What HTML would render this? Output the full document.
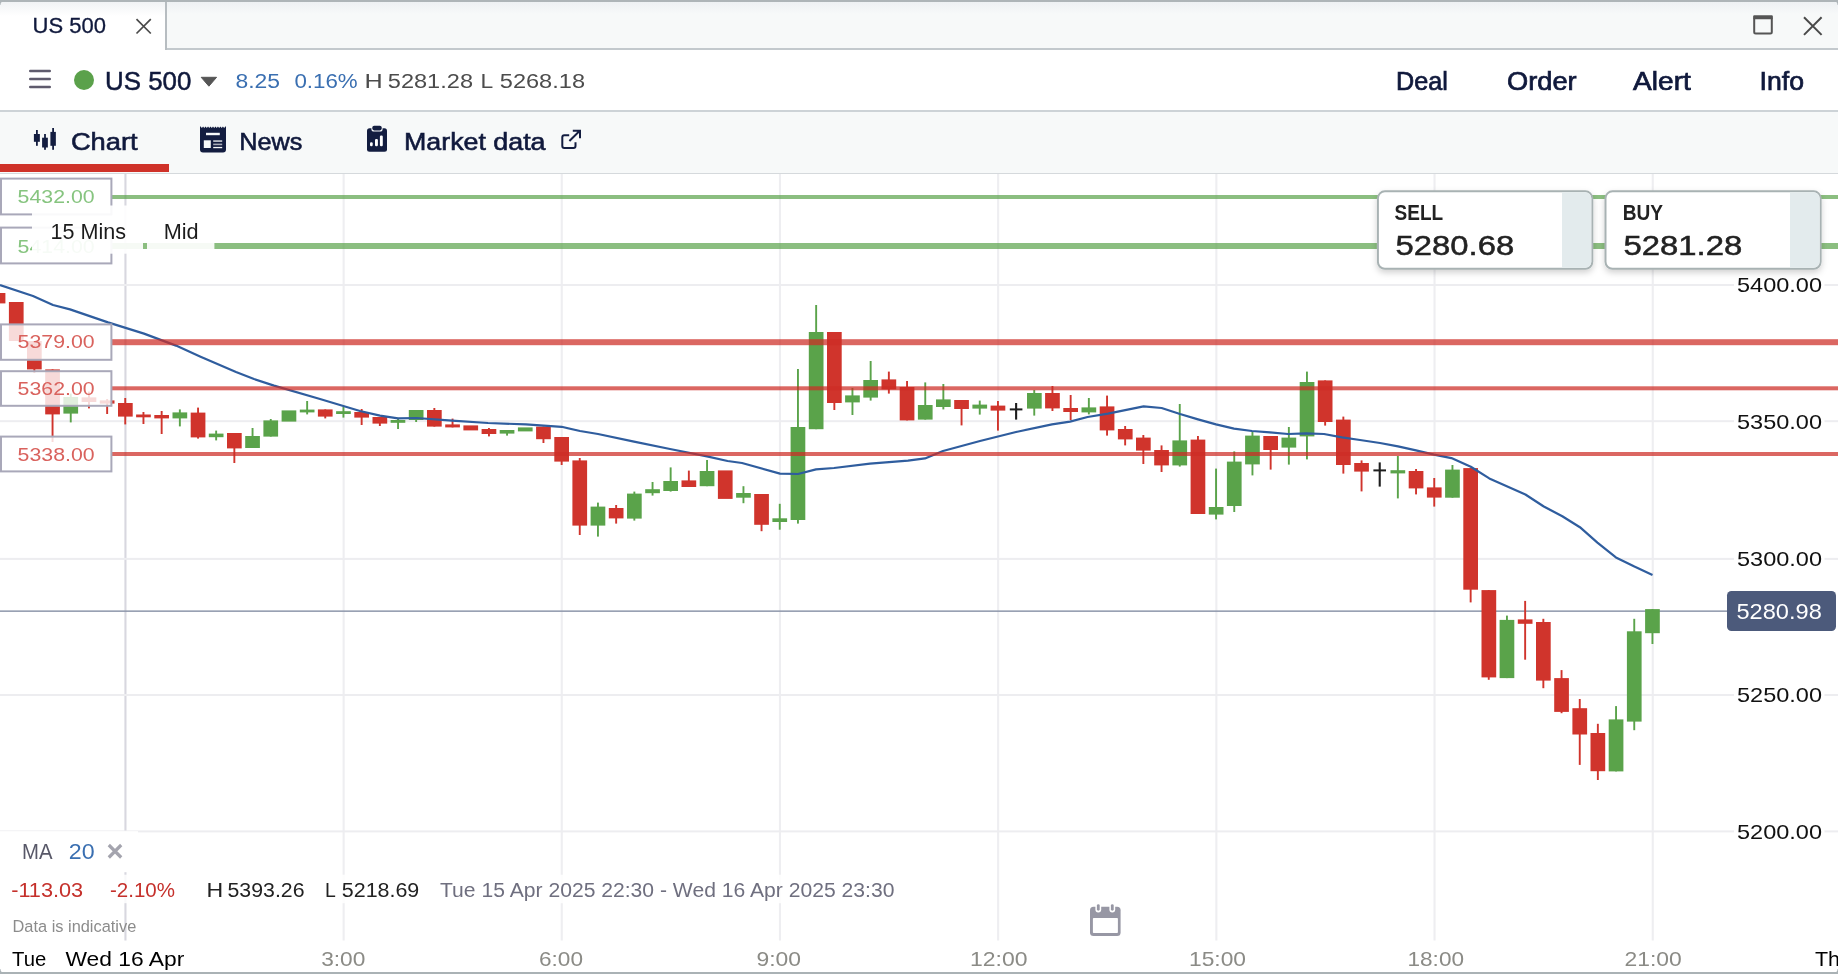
<!DOCTYPE html>
<html lang="en"><head><meta charset="utf-8"><title>US 500</title>
<style>
html,body{margin:0;padding:0;}
body{width:1838px;height:974px;overflow:hidden;background:#fff;font-family:"Liberation Sans",sans-serif;position:relative;}
svg{position:absolute;left:0;display:block;overflow:hidden;}
svg text{font-family:"Liberation Sans",sans-serif;}
svg{will-change:transform;}
.sec{position:absolute;left:0;width:1838px;}
#frame-top{top:0;height:2px;background:#aeb5b8;}
#titlebar{top:2px;height:48px;background:linear-gradient(#eef1f3,#f7f9f9 12px);}
#titlebar .tab{position:absolute;left:0;top:0;width:165px;height:48px;background:linear-gradient(#f1f3f5,#fff 14px);border-right:2px solid #b7bdc1;}
#titlebar .rest{position:absolute;left:167px;right:0;bottom:0;height:2px;background:#c3c9cd;}
#header{top:50px;height:60px;background:#fff;border-bottom:2px solid #cdd3d7;}
#tabs{top:112px;height:61px;background:#f7f9f9;border-bottom:1.5px solid #d5d9dc;}
#tabs .active{position:absolute;left:0;top:52px;width:169px;height:8px;background:#cf3229;}
#chart{top:174px;height:798px;background:#fff;}
#frame-bot{top:972px;height:2px;background:#aab2b5;}
.corner{position:absolute;width:5px;height:5px;z-index:5;}
.c-tl{left:0;top:0;background:radial-gradient(circle at 100% 100%,transparent 4px,#aeb5b8 5px);}
.c-tr{right:0;top:0;background:radial-gradient(circle at 0 100%,transparent 4px,#aeb5b8 5px);}
.c-bl{left:0;bottom:0;background:radial-gradient(circle at 100% 0,transparent 4px,#aab2b5 5px);}
.c-br{right:0;bottom:0;background:radial-gradient(circle at 0 0,transparent 4px,#aab2b5 5px);}
</style></head><body>

<div class="sec" id="frame-top"></div>
<div class="sec" id="titlebar"><div class="tab"></div><div class="rest"></div>
<svg width="1838" height="48" viewBox="0 2 1838 48" style="top:0">
<text x="32.6" y="33.3" font-size="21.8" textLength="73.4" lengthAdjust="spacingAndGlyphs" fill="#10193c" font-weight="normal" stroke="#10193c" stroke-width="0.3">US 500</text>
<path d="M136.5 19.2 L150.8 33.5 M150.8 19.2 L136.5 33.5" stroke="#4a4a4a" stroke-width="1.7" fill="none"/>
<rect x="1754.2" y="17.2" width="17.6" height="16.3" rx="1.5" fill="none" stroke="#555" stroke-width="2"/><rect x="1753.2" y="15.2" width="19.6" height="4" rx="1" fill="#555"/>
<path d="M1804 17.3 L1821.6 34.9 M1821.6 17.3 L1804 34.9" stroke="#4a4a4a" stroke-width="2" fill="none"/>
</svg></div>
<div class="sec" id="header"><svg width="1838" height="60" viewBox="0 50 1838 60" style="top:0">
<rect x="29" y="69.8" width="22" height="2.4" rx="1.2" fill="#5e5a6c"/>
<rect x="29" y="77.8" width="22" height="2.4" rx="1.2" fill="#5e5a6c"/>
<rect x="29" y="85.8" width="22" height="2.4" rx="1.2" fill="#5e5a6c"/>
<circle cx="84" cy="80" r="10" fill="#5ba14b"/>
<text x="105.0" y="90.0" font-size="25.9" textLength="86.3" lengthAdjust="spacingAndGlyphs" fill="#10193c" font-weight="normal" stroke="#10193c" stroke-width="0.5">US 500</text>
<path d="M201.2 77.3 L216.6 77.3 L208.9 86.2 Z" fill="#555" stroke="#555" stroke-width="1" stroke-linejoin="round"/>
<text x="235.4" y="87.7" font-size="21.1" textLength="44.6" lengthAdjust="spacingAndGlyphs" fill="#3a6fb1" font-weight="normal">8.25</text>
<text x="294.4" y="87.7" font-size="21.1" textLength="63.3" lengthAdjust="spacingAndGlyphs" fill="#3a6fb1" font-weight="normal">0.16%</text>
<text x="364.4" y="87.7" font-size="21.1" textLength="18.2" lengthAdjust="spacingAndGlyphs" fill="#4c4c4c" font-weight="normal">H</text><text x="387.8" y="87.7" font-size="21.1" textLength="85.2" lengthAdjust="spacingAndGlyphs" fill="#4c4c4c" font-weight="normal">5281.28</text>
<text x="480.6" y="87.7" font-size="21.1" textLength="12.7" lengthAdjust="spacingAndGlyphs" fill="#4c4c4c" font-weight="normal">L</text><text x="499.8" y="87.7" font-size="21.1" textLength="85.2" lengthAdjust="spacingAndGlyphs" fill="#4c4c4c" font-weight="normal">5268.18</text>
<text x="1396.0" y="90.2" font-size="25.0" textLength="51.8" lengthAdjust="spacingAndGlyphs" fill="#10193c" font-weight="normal" stroke="#10193c" stroke-width="0.7">Deal</text>
<text x="1507.0" y="90.2" font-size="25.0" textLength="69.6" lengthAdjust="spacingAndGlyphs" fill="#10193c" font-weight="normal" stroke="#10193c" stroke-width="0.7">Order</text>
<text x="1633.1" y="90.2" font-size="25.0" textLength="57.7" lengthAdjust="spacingAndGlyphs" fill="#10193c" font-weight="normal" stroke="#10193c" stroke-width="0.7">Alert</text>
<text x="1759.6" y="90.2" font-size="25.0" textLength="44.4" lengthAdjust="spacingAndGlyphs" fill="#10193c" font-weight="normal" stroke="#10193c" stroke-width="0.7">Info</text>
</svg></div>
<div class="sec" id="tabs"><div class="active"></div><svg width="1838" height="61" viewBox="0 112 1838 61" style="top:0">
<rect x="36.00" y="130" width="1.8" height="15.80" fill="#131d40"/><rect x="33.9" y="134" width="5.95" height="7.80" fill="#131d40"/><rect x="44.10" y="134" width="1.8" height="15.80" fill="#131d40"/><rect x="42.1" y="137.7" width="5.75" height="9.80" fill="#131d40"/><rect x="52.20" y="128" width="1.8" height="21.80" fill="#131d40"/><rect x="50.4" y="131.9" width="5.45" height="13.90" fill="#131d40"/><path d="M200 127.9 L200 126.6 L200.6 126.6 L201.84 127.9 L203.08 126.5 L204.32 127.9 L205.56 126.5 L206.80 127.9 L208.04 126.5 L209.28 127.9 L210.52 126.5 L211.76 127.9 L213.00 126.5 L214.24 127.9 L215.48 126.5 L216.72 127.9 L217.96 126.5 L219.20 127.9 L220.44 126.5 L221.68 127.9 L222.92 126.5 L224.16 127.9 L225.40 126.5 L226 126.6 L226 127.9 V149.6 a3 3 0 0 1 -3 3 H203 a3 3 0 0 1 -3 -3 Z" fill="#131d40"/><rect x="206" y="132.8" width="13.8" height="2.4" fill="#f7f9f9"/><rect x="203.8" y="140.3" width="7" height="7.7" fill="#f7f9f9"/><rect x="213.2" y="140.4" width="9" height="1.3" fill="#f7f9f9"/><rect x="213.2" y="143.6" width="9" height="1.6" fill="#a9acb8"/><rect x="213.2" y="146.9" width="9" height="1.3" fill="#f7f9f9"/><rect x="367" y="128.2" width="20" height="23.5" rx="2.5" fill="#131d40"/><rect x="371.4" y="125" width="11.2" height="6.6" rx="2.6" fill="#f7f9f9"/><rect x="372.3" y="125.8" width="9.4" height="4.6" rx="1.8" fill="#131d40"/><rect x="370" y="142.2" width="2.7" height="4" rx="1.2" fill="#fff"/><rect x="375" y="138.9" width="2.9" height="7.3" rx="1.2" fill="#fff"/><rect x="379.9" y="135.6" width="2.9" height="10.6" rx="1.2" fill="#fff"/><path d="M569.2 135.3 H564.3 a2 2 0 0 0 -2 2 V146 a2 2 0 0 0 2 2 H573.5 a2 2 0 0 0 2 -2 V142.2" fill="none" stroke="#131d40" stroke-width="2"/><path d="M569.4 141 L579.8 130.8 M572.8 130.8 H580 V138.2" fill="none" stroke="#131d40" stroke-width="2"/>
<text x="70.9" y="149.8" font-size="24.8" textLength="66.8" lengthAdjust="spacingAndGlyphs" fill="#10193c" font-weight="normal" stroke="#10193c" stroke-width="0.6">Chart</text>
<text x="239.3" y="149.8" font-size="24.8" textLength="63.1" lengthAdjust="spacingAndGlyphs" fill="#10193c" font-weight="normal" stroke="#10193c" stroke-width="0.6">News</text>
<text x="404.0" y="149.8" font-size="24.8" textLength="141.5" lengthAdjust="spacingAndGlyphs" fill="#10193c" font-weight="normal" stroke="#10193c" stroke-width="0.6">Market data</text>
</svg></div>
<div class="sec" id="chart"><svg width="1838" height="798" viewBox="0 174 1838 798" style="top:0">
<rect x="124.40" y="174" width="2.1" height="766.5" fill="#d8d7df"/>
<rect x="342.60" y="174" width="2.1" height="766.5" fill="#eeeef1"/>
<rect x="560.70" y="174" width="2.1" height="766.5" fill="#eeeef1"/>
<rect x="778.90" y="174" width="2.1" height="766.5" fill="#eeeef1"/>
<rect x="997.10" y="174" width="2.1" height="766.5" fill="#eeeef1"/>
<rect x="1215.30" y="174" width="2.1" height="766.5" fill="#eeeef1"/>
<rect x="1433.50" y="174" width="2.1" height="766.5" fill="#eeeef1"/>
<rect x="1651.70" y="174" width="2.1" height="766.5" fill="#eeeef1"/>
<rect x="0" y="284.00" width="1838" height="2" fill="#ededf0"/>
<rect x="0" y="420.20" width="1838" height="2" fill="#ededf0"/>
<rect x="0" y="557.90" width="1838" height="2" fill="#ededf0"/>
<rect x="0" y="694.00" width="1838" height="2" fill="#ededf0"/>
<rect x="0" y="830.40" width="1838" height="2" fill="#ededf0"/>
<rect x="0" y="610.4" width="1730" height="1.5" fill="#8e97ab"/>
<g id="candles">
<rect x="-9.3" y="293.0" width="14.7" height="10.4" fill="#d0342c"/>
<rect x="8.9" y="302.0" width="14.7" height="39.0" fill="#d0342c"/>
<rect x="33.4" y="341.0" width="1.9" height="32.0" fill="#d0342c"/>
<rect x="27.0" y="341.0" width="14.7" height="28.4" fill="#d0342c"/>
<rect x="51.6" y="369.4" width="1.9" height="72.6" fill="#d0342c"/>
<rect x="45.2" y="369.4" width="14.7" height="45.0" fill="#d0342c"/>
<rect x="69.8" y="393.6" width="1.9" height="28.8" fill="#5aa34a"/>
<rect x="63.4" y="397.0" width="14.7" height="16.6" fill="#5aa34a"/>
<rect x="88.0" y="391.6" width="1.9" height="16.8" fill="#d0342c"/>
<rect x="81.6" y="397.4" width="14.7" height="4.6" fill="#d0342c"/>
<rect x="106.2" y="399.0" width="1.9" height="15.0" fill="#d0342c"/>
<rect x="99.8" y="400.4" width="14.7" height="3.2" fill="#d0342c"/>
<rect x="124.3" y="398.0" width="1.9" height="26.4" fill="#d0342c"/>
<rect x="118.0" y="403.0" width="14.7" height="13.6" fill="#d0342c"/>
<rect x="142.5" y="412.0" width="1.9" height="12.0" fill="#d0342c"/>
<rect x="136.1" y="414.5" width="14.7" height="2.8" fill="#d0342c"/>
<rect x="160.7" y="411.0" width="1.9" height="23.0" fill="#d0342c"/>
<rect x="154.3" y="415.0" width="14.7" height="3.4" fill="#d0342c"/>
<rect x="178.9" y="409.4" width="1.9" height="17.0" fill="#5aa34a"/>
<rect x="172.5" y="412.4" width="14.7" height="6.0" fill="#5aa34a"/>
<rect x="197.1" y="407.6" width="1.9" height="31.0" fill="#d0342c"/>
<rect x="190.7" y="412.6" width="14.7" height="24.8" fill="#d0342c"/>
<rect x="215.2" y="430.6" width="1.9" height="9.8" fill="#5aa34a"/>
<rect x="208.8" y="433.6" width="14.7" height="3.6" fill="#5aa34a"/>
<rect x="233.4" y="433.0" width="1.9" height="30.0" fill="#d0342c"/>
<rect x="227.0" y="433.0" width="14.7" height="15.4" fill="#d0342c"/>
<rect x="251.6" y="428.0" width="1.9" height="20.0" fill="#5aa34a"/>
<rect x="245.2" y="436.0" width="14.7" height="12.0" fill="#5aa34a"/>
<rect x="269.8" y="419.0" width="1.9" height="17.6" fill="#5aa34a"/>
<rect x="263.4" y="420.4" width="14.7" height="16.2" fill="#5aa34a"/>
<rect x="281.6" y="410.4" width="14.7" height="11.2" fill="#5aa34a"/>
<rect x="306.2" y="401.0" width="1.9" height="13.4" fill="#5aa34a"/>
<rect x="299.8" y="409.6" width="14.7" height="2.8" fill="#5aa34a"/>
<rect x="324.3" y="409.4" width="1.9" height="9.0" fill="#d0342c"/>
<rect x="317.9" y="409.4" width="14.7" height="7.2" fill="#d0342c"/>
<rect x="342.5" y="407.0" width="1.9" height="10.6" fill="#5aa34a"/>
<rect x="336.1" y="411.2" width="14.7" height="2.8" fill="#5aa34a"/>
<rect x="360.7" y="409.0" width="1.9" height="16.0" fill="#d0342c"/>
<rect x="354.3" y="412.0" width="14.7" height="5.6" fill="#d0342c"/>
<rect x="378.9" y="417.0" width="1.9" height="9.0" fill="#d0342c"/>
<rect x="372.5" y="417.0" width="14.7" height="6.6" fill="#d0342c"/>
<rect x="397.1" y="418.0" width="1.9" height="11.0" fill="#5aa34a"/>
<rect x="390.6" y="420.0" width="14.7" height="2.8" fill="#5aa34a"/>
<rect x="415.2" y="410.0" width="1.9" height="12.0" fill="#5aa34a"/>
<rect x="408.8" y="410.0" width="14.7" height="10.0" fill="#5aa34a"/>
<rect x="433.4" y="408.0" width="1.9" height="18.6" fill="#d0342c"/>
<rect x="427.0" y="410.0" width="14.7" height="16.6" fill="#d0342c"/>
<rect x="451.6" y="418.6" width="1.9" height="8.8" fill="#d0342c"/>
<rect x="445.2" y="424.4" width="14.7" height="3.0" fill="#d0342c"/>
<rect x="463.4" y="425.4" width="14.7" height="5.0" fill="#d0342c"/>
<rect x="488.0" y="428.0" width="1.9" height="8.4" fill="#d0342c"/>
<rect x="481.6" y="429.0" width="14.7" height="5.0" fill="#d0342c"/>
<rect x="506.1" y="430.0" width="1.9" height="5.6" fill="#5aa34a"/>
<rect x="499.7" y="430.0" width="14.7" height="3.6" fill="#5aa34a"/>
<rect x="517.9" y="427.4" width="14.7" height="4.0" fill="#5aa34a"/>
<rect x="542.5" y="426.6" width="1.9" height="16.4" fill="#d0342c"/>
<rect x="536.1" y="426.6" width="14.7" height="12.6" fill="#d0342c"/>
<rect x="560.7" y="437.0" width="1.9" height="28.0" fill="#d0342c"/>
<rect x="554.3" y="437.0" width="14.7" height="24.6" fill="#d0342c"/>
<rect x="578.8" y="458.0" width="1.9" height="77.0" fill="#d0342c"/>
<rect x="572.4" y="460.4" width="14.7" height="65.2" fill="#d0342c"/>
<rect x="597.0" y="502.6" width="1.9" height="34.0" fill="#5aa34a"/>
<rect x="590.6" y="506.6" width="14.7" height="19.0" fill="#5aa34a"/>
<rect x="615.2" y="505.0" width="1.9" height="18.6" fill="#d0342c"/>
<rect x="608.8" y="508.0" width="14.7" height="10.4" fill="#d0342c"/>
<rect x="633.4" y="491.6" width="1.9" height="29.0" fill="#5aa34a"/>
<rect x="627.0" y="493.6" width="14.7" height="25.0" fill="#5aa34a"/>
<rect x="651.6" y="482.0" width="1.9" height="13.6" fill="#5aa34a"/>
<rect x="645.2" y="489.2" width="14.7" height="4.0" fill="#5aa34a"/>
<rect x="669.7" y="467.4" width="1.9" height="24.2" fill="#5aa34a"/>
<rect x="663.3" y="481.0" width="14.7" height="10.0" fill="#5aa34a"/>
<rect x="687.9" y="470.6" width="1.9" height="16.4" fill="#d0342c"/>
<rect x="681.5" y="480.4" width="14.7" height="6.6" fill="#d0342c"/>
<rect x="706.1" y="460.0" width="1.9" height="26.2" fill="#5aa34a"/>
<rect x="699.7" y="471.0" width="14.7" height="15.2" fill="#5aa34a"/>
<rect x="717.9" y="470.4" width="14.7" height="28.5" fill="#d0342c"/>
<rect x="742.5" y="486.2" width="1.9" height="17.0" fill="#5aa34a"/>
<rect x="736.1" y="493.0" width="14.7" height="4.7" fill="#5aa34a"/>
<rect x="760.6" y="494.0" width="1.9" height="37.2" fill="#d0342c"/>
<rect x="754.2" y="494.0" width="14.7" height="30.8" fill="#d0342c"/>
<rect x="778.8" y="503.8" width="1.9" height="25.9" fill="#5aa34a"/>
<rect x="772.4" y="518.3" width="14.7" height="3.7" fill="#5aa34a"/>
<rect x="797.0" y="369.0" width="1.9" height="154.6" fill="#5aa34a"/>
<rect x="790.6" y="427.0" width="14.7" height="93.0" fill="#5aa34a"/>
<rect x="815.2" y="305.0" width="1.9" height="124.2" fill="#5aa34a"/>
<rect x="808.8" y="332.0" width="14.7" height="97.2" fill="#5aa34a"/>
<rect x="833.4" y="332.0" width="1.9" height="78.0" fill="#d0342c"/>
<rect x="827.0" y="332.0" width="14.7" height="71.0" fill="#d0342c"/>
<rect x="851.5" y="388.0" width="1.9" height="27.0" fill="#5aa34a"/>
<rect x="845.1" y="395.4" width="14.7" height="7.0" fill="#5aa34a"/>
<rect x="869.7" y="361.0" width="1.9" height="39.6" fill="#5aa34a"/>
<rect x="863.3" y="380.0" width="14.7" height="17.6" fill="#5aa34a"/>
<rect x="887.9" y="371.6" width="1.9" height="22.0" fill="#d0342c"/>
<rect x="881.5" y="379.4" width="14.7" height="10.0" fill="#d0342c"/>
<rect x="906.1" y="381.0" width="1.9" height="39.4" fill="#d0342c"/>
<rect x="899.7" y="387.0" width="14.7" height="33.4" fill="#d0342c"/>
<rect x="924.3" y="382.4" width="1.9" height="37.2" fill="#5aa34a"/>
<rect x="917.9" y="405.0" width="14.7" height="14.6" fill="#5aa34a"/>
<rect x="942.4" y="384.0" width="1.9" height="25.4" fill="#5aa34a"/>
<rect x="936.0" y="399.4" width="14.7" height="7.6" fill="#5aa34a"/>
<rect x="960.6" y="400.0" width="1.9" height="25.4" fill="#d0342c"/>
<rect x="954.2" y="400.0" width="14.7" height="9.0" fill="#d0342c"/>
<rect x="978.8" y="400.6" width="1.9" height="14.0" fill="#5aa34a"/>
<rect x="972.4" y="404.6" width="14.7" height="4.0" fill="#5aa34a"/>
<rect x="997.0" y="401.0" width="1.9" height="29.6" fill="#d0342c"/>
<rect x="990.6" y="405.6" width="14.7" height="5.0" fill="#d0342c"/>
<rect x="1015.07" y="403.0" width="2.1" height="16.6" fill="#1e1e1e"/>
<rect x="1009.8" y="408.4" width="12.6" height="2" fill="#1e1e1e"/>
<rect x="1033.3" y="390.0" width="1.9" height="25.6" fill="#5aa34a"/>
<rect x="1027.0" y="393.0" width="14.7" height="15.6" fill="#5aa34a"/>
<rect x="1051.5" y="386.0" width="1.9" height="25.0" fill="#d0342c"/>
<rect x="1045.1" y="393.0" width="14.7" height="15.4" fill="#d0342c"/>
<rect x="1069.7" y="395.0" width="1.9" height="25.0" fill="#d0342c"/>
<rect x="1063.3" y="408.0" width="14.7" height="4.0" fill="#d0342c"/>
<rect x="1087.9" y="398.0" width="1.9" height="16.4" fill="#5aa34a"/>
<rect x="1081.5" y="407.4" width="14.7" height="5.0" fill="#5aa34a"/>
<rect x="1106.1" y="395.6" width="1.9" height="40.0" fill="#d0342c"/>
<rect x="1099.7" y="406.4" width="14.7" height="24.0" fill="#d0342c"/>
<rect x="1124.2" y="426.0" width="1.9" height="19.4" fill="#d0342c"/>
<rect x="1117.9" y="429.0" width="14.7" height="10.4" fill="#d0342c"/>
<rect x="1142.4" y="435.0" width="1.9" height="29.0" fill="#d0342c"/>
<rect x="1136.0" y="437.6" width="14.7" height="13.0" fill="#d0342c"/>
<rect x="1160.6" y="445.4" width="1.9" height="26.6" fill="#d0342c"/>
<rect x="1154.2" y="450.0" width="14.7" height="15.4" fill="#d0342c"/>
<rect x="1178.8" y="404.0" width="1.9" height="62.6" fill="#5aa34a"/>
<rect x="1172.4" y="440.4" width="14.7" height="25.0" fill="#5aa34a"/>
<rect x="1197.0" y="436.0" width="1.9" height="78.0" fill="#d0342c"/>
<rect x="1190.6" y="439.6" width="14.7" height="74.4" fill="#d0342c"/>
<rect x="1215.1" y="468.6" width="1.9" height="50.8" fill="#5aa34a"/>
<rect x="1208.8" y="507.0" width="14.7" height="7.6" fill="#5aa34a"/>
<rect x="1233.3" y="451.4" width="1.9" height="60.6" fill="#5aa34a"/>
<rect x="1226.9" y="461.6" width="14.7" height="44.4" fill="#5aa34a"/>
<rect x="1251.5" y="431.0" width="1.9" height="44.4" fill="#5aa34a"/>
<rect x="1245.1" y="435.6" width="14.7" height="28.8" fill="#5aa34a"/>
<rect x="1269.7" y="436.0" width="1.9" height="33.6" fill="#d0342c"/>
<rect x="1263.3" y="436.0" width="14.7" height="14.0" fill="#d0342c"/>
<rect x="1287.9" y="427.0" width="1.9" height="37.6" fill="#5aa34a"/>
<rect x="1281.5" y="437.6" width="14.7" height="10.0" fill="#5aa34a"/>
<rect x="1306.0" y="371.6" width="1.9" height="87.8" fill="#5aa34a"/>
<rect x="1299.7" y="382.0" width="14.7" height="54.4" fill="#5aa34a"/>
<rect x="1324.2" y="380.4" width="1.9" height="45.2" fill="#d0342c"/>
<rect x="1317.8" y="380.4" width="14.7" height="41.6" fill="#d0342c"/>
<rect x="1342.4" y="416.6" width="1.9" height="57.0" fill="#d0342c"/>
<rect x="1336.0" y="419.6" width="14.7" height="45.4" fill="#d0342c"/>
<rect x="1360.6" y="460.4" width="1.9" height="31.0" fill="#d0342c"/>
<rect x="1354.2" y="463.0" width="14.7" height="8.6" fill="#d0342c"/>
<rect x="1378.67" y="462.4" width="2.1" height="24.2" fill="#1e1e1e"/>
<rect x="1373.4" y="469.4" width="12.6" height="2" fill="#1e1e1e"/>
<rect x="1396.9" y="456.0" width="1.9" height="42.4" fill="#5aa34a"/>
<rect x="1390.5" y="470.2" width="14.7" height="3.2" fill="#5aa34a"/>
<rect x="1415.1" y="469.0" width="1.9" height="25.4" fill="#d0342c"/>
<rect x="1408.7" y="471.0" width="14.7" height="17.4" fill="#d0342c"/>
<rect x="1433.3" y="478.0" width="1.9" height="28.6" fill="#d0342c"/>
<rect x="1426.9" y="487.4" width="14.7" height="10.2" fill="#d0342c"/>
<rect x="1451.5" y="465.0" width="1.9" height="32.7" fill="#5aa34a"/>
<rect x="1445.1" y="469.6" width="14.7" height="28.1" fill="#5aa34a"/>
<rect x="1469.7" y="468.1" width="1.9" height="134.3" fill="#d0342c"/>
<rect x="1463.3" y="468.1" width="14.7" height="121.6" fill="#d0342c"/>
<rect x="1487.8" y="590.1" width="1.9" height="89.7" fill="#d0342c"/>
<rect x="1481.5" y="590.1" width="14.7" height="87.3" fill="#d0342c"/>
<rect x="1506.0" y="615.6" width="1.9" height="62.5" fill="#5aa34a"/>
<rect x="1499.6" y="619.9" width="14.7" height="58.2" fill="#5aa34a"/>
<rect x="1524.2" y="600.9" width="1.9" height="58.8" fill="#d0342c"/>
<rect x="1517.8" y="619.4" width="14.7" height="4.4" fill="#d0342c"/>
<rect x="1542.4" y="618.8" width="1.9" height="69.4" fill="#d0342c"/>
<rect x="1536.0" y="622.0" width="14.7" height="58.6" fill="#d0342c"/>
<rect x="1560.6" y="670.1" width="1.9" height="43.1" fill="#d0342c"/>
<rect x="1554.2" y="678.1" width="14.7" height="33.8" fill="#d0342c"/>
<rect x="1578.8" y="699.0" width="1.9" height="65.9" fill="#d0342c"/>
<rect x="1572.4" y="708.2" width="14.7" height="26.3" fill="#d0342c"/>
<rect x="1596.9" y="723.8" width="1.9" height="56.2" fill="#d0342c"/>
<rect x="1590.5" y="733.0" width="14.7" height="38.2" fill="#d0342c"/>
<rect x="1615.1" y="706.1" width="1.9" height="65.3" fill="#5aa34a"/>
<rect x="1608.7" y="719.4" width="14.7" height="52.0" fill="#5aa34a"/>
<rect x="1633.3" y="618.8" width="1.9" height="111.4" fill="#5aa34a"/>
<rect x="1626.9" y="631.3" width="14.7" height="90.3" fill="#5aa34a"/>
<rect x="1651.5" y="609.1" width="1.9" height="34.9" fill="#5aa34a"/>
<rect x="1645.1" y="609.1" width="14.7" height="24.1" fill="#5aa34a"/>
</g>
<polyline points="0.0,285.0 33.0,296.0 53.0,305.0 70.0,309.4 108.0,322.4 144.0,333.6 176.0,345.6 200.0,356.4 236.0,372.0 254.0,379.0 274.0,385.6 320.0,399.0 360.0,411.0 380.0,415.6 398.0,418.4 416.4,418.0 452.0,420.6 488.0,423.0 526.0,424.4 561.6,426.8 580.0,431.0 598.0,434.0 634.0,441.6 670.0,449.0 707.0,456.4 727.6,461.0 742.0,463.0 780.0,473.6 798.0,474.0 816.0,469.4 834.0,468.0 870.0,463.6 908.0,460.6 925.0,458.4 943.0,451.0 980.0,441.0 1016.0,432.0 1052.0,424.4 1070.0,421.6 1087.6,417.0 1108.0,413.6 1143.6,406.4 1161.6,408.0 1180.0,414.0 1198.0,419.4 1216.0,424.4 1234.0,428.6 1252.0,431.0 1270.0,432.4 1288.0,434.0 1306.0,433.4 1324.0,434.0 1342.0,437.4 1360.0,440.0 1380.0,443.0 1398.0,446.4 1416.0,450.4 1434.0,454.6 1451.4,458.1 1470.8,466.8 1489.3,478.4 1525.4,494.5 1543.8,506.5 1562.3,516.2 1579.9,527.2 1597.4,542.6 1615.9,557.4 1634.4,566.6 1652.5,574.9" fill="none" stroke="#2f5d9e" stroke-width="2.2" stroke-linejoin="round"/>
<rect x="112" y="195" width="1726" height="4" fill="rgba(90,163,74,0.70)"/>
<rect x="112" y="243" width="1726" height="6" fill="rgba(90,163,74,0.70)"/>
<rect x="112" y="339.2" width="1726" height="6" fill="rgba(205,45,38,0.72)"/>
<rect x="112" y="386.3" width="1726" height="4" fill="rgba(205,45,38,0.72)"/>
<rect x="112" y="452" width="1726" height="4" fill="rgba(205,45,38,0.72)"/>
<rect x="1" y="178.6" width="110.4" height="35.8" fill="rgba(255,255,255,0.82)" stroke="#a9a8b9" stroke-width="2"/><text x="17.6" y="202.7" font-size="18.9" textLength="77.0" lengthAdjust="spacingAndGlyphs" fill="#86c47f" font-weight="normal">5432.00</text>
<rect x="1" y="227.6" width="110.4" height="35.8" fill="rgba(255,255,255,0.82)" stroke="#a9a8b9" stroke-width="2"/><text x="17.6" y="252.6" font-size="18.9" textLength="77.0" lengthAdjust="spacingAndGlyphs" fill="#86c47f" font-weight="normal">5414.00</text>
<rect x="1" y="324.4" width="110.4" height="35.4" fill="rgba(255,255,255,0.82)" stroke="#a9a8b9" stroke-width="2"/><text x="17.6" y="347.7" font-size="18.9" textLength="77.0" lengthAdjust="spacingAndGlyphs" fill="#d9625d" font-weight="normal">5379.00</text>
<rect x="1" y="371.2" width="110.4" height="34.6" fill="rgba(255,255,255,0.82)" stroke="#a9a8b9" stroke-width="2"/><text x="17.6" y="394.7" font-size="18.9" textLength="77.0" lengthAdjust="spacingAndGlyphs" fill="#d9625d" font-weight="normal">5362.00</text>
<rect x="1" y="436.6" width="110.4" height="34.8" fill="rgba(255,255,255,0.82)" stroke="#a9a8b9" stroke-width="2"/><text x="17.6" y="461.0" font-size="18.9" textLength="77.0" lengthAdjust="spacingAndGlyphs" fill="#d9625d" font-weight="normal">5338.00</text>
<rect x="32" y="205.5" width="111" height="48.2" fill="rgba(255,255,255,0.93)"/>
<rect x="147" y="205.5" width="67.4" height="48.2" fill="rgba(255,255,255,0.93)"/>
<text x="50.5" y="239.3" font-size="21.3" textLength="75.5" lengthAdjust="spacingAndGlyphs" fill="#1c1c1c" font-weight="normal">15 Mins</text>
<text x="163.7" y="239.3" font-size="21.3" textLength="34.9" lengthAdjust="spacingAndGlyphs" fill="#1c1c1c" font-weight="normal">Mid</text>
<rect x="1734" y="276.0" width="90.5" height="18" fill="#fff"/>
<text x="1737.0" y="292.4" font-size="20.8" textLength="85.0" lengthAdjust="spacingAndGlyphs" fill="#111" font-weight="normal">5400.00</text>
<rect x="1734" y="412.2" width="90.5" height="18" fill="#fff"/>
<text x="1737.0" y="428.6" font-size="20.8" textLength="85.0" lengthAdjust="spacingAndGlyphs" fill="#111" font-weight="normal">5350.00</text>
<rect x="1734" y="549.9" width="90.5" height="18" fill="#fff"/>
<text x="1737.0" y="566.3" font-size="20.8" textLength="85.0" lengthAdjust="spacingAndGlyphs" fill="#111" font-weight="normal">5300.00</text>
<rect x="1734" y="686.0" width="90.5" height="18" fill="#fff"/>
<text x="1737.0" y="702.4" font-size="20.8" textLength="85.0" lengthAdjust="spacingAndGlyphs" fill="#111" font-weight="normal">5250.00</text>
<rect x="1734" y="822.4" width="90.5" height="18" fill="#fff"/>
<text x="1737.0" y="838.8" font-size="20.8" textLength="85.0" lengthAdjust="spacingAndGlyphs" fill="#111" font-weight="normal">5200.00</text>
<rect x="1727" y="591" width="109" height="40" rx="4.5" fill="#4c5a7b"/>
<text x="1736.5" y="619.2" font-size="21.8" textLength="85.3" lengthAdjust="spacingAndGlyphs" fill="#fff" font-weight="normal">5280.98</text>
<defs><filter id="sh" x="-10%" y="-20%" width="120%" height="150%"><feDropShadow dx="0" dy="3" stdDeviation="3" flood-color="#000" flood-opacity="0.18"/></filter></defs>
<g filter="url(#sh)"><rect x="1377.9" y="191.3" width="214.39999999999986" height="77.5" rx="7" fill="#fff" stroke="#a8b2b3" stroke-width="2"/></g><path d="M1562 192.3 H1585.3 a6 6 0 0 1 6 6 V261.8 a6 6 0 0 1 -6 6 H1562 Z" fill="#e3ebed"/><text x="1394.6" y="220.2" font-size="21.8" textLength="48.6" lengthAdjust="spacingAndGlyphs" fill="#222" font-weight="bold">SELL</text><text x="1395.6" y="255.0" font-size="28.0" textLength="118.6" lengthAdjust="spacingAndGlyphs" fill="#222" font-weight="normal" stroke="#222" stroke-width="0.5">5280.68</text>
<g filter="url(#sh)"><rect x="1605.5" y="191.3" width="215.0999999999999" height="77.5" rx="7" fill="#fff" stroke="#a8b2b3" stroke-width="2"/></g><path d="M1790 192.3 H1813.6 a6 6 0 0 1 6 6 V261.8 a6 6 0 0 1 -6 6 H1790 Z" fill="#e3ebed"/><text x="1622.7" y="220.2" font-size="21.8" textLength="40.3" lengthAdjust="spacingAndGlyphs" fill="#222" font-weight="bold">BUY</text><text x="1623.5" y="255.0" font-size="28.0" textLength="118.8" lengthAdjust="spacingAndGlyphs" fill="#222" font-weight="normal" stroke="#222" stroke-width="0.5">5281.28</text>
<rect x="0" y="831.2" width="138" height="41" fill="#fff"/>
<text x="22.0" y="858.8" font-size="21.3" textLength="30.5" lengthAdjust="spacingAndGlyphs" fill="#585868" font-weight="normal">MA</text>
<text x="68.8" y="858.8" font-size="21.3" textLength="25.8" lengthAdjust="spacingAndGlyphs" fill="#3a6fb1" font-weight="normal">20</text>
<path d="M108.8 845 L121.2 857.5 M121.2 845 L108.8 857.5" stroke="#a4a4ae" stroke-width="3.2" fill="none"/>
<rect x="0" y="874.7" width="902" height="28.5" fill="rgba(255,255,255,0.85)"/>
<text x="11.2" y="896.7" font-size="20.1" textLength="72.0" lengthAdjust="spacingAndGlyphs" fill="#c5302b" font-weight="normal">-113.03</text>
<text x="110.0" y="896.7" font-size="20.1" textLength="65.0" lengthAdjust="spacingAndGlyphs" fill="#c5302b" font-weight="normal">-2.10%</text>
<text x="206.4" y="896.7" font-size="20.1" textLength="16.7" lengthAdjust="spacingAndGlyphs" fill="#222" font-weight="normal">H</text><text x="227.5" y="896.7" font-size="20.1" textLength="77.0" lengthAdjust="spacingAndGlyphs" fill="#222" font-weight="normal">5393.26</text>
<text x="324.9" y="896.7" font-size="20.1" textLength="10.8" lengthAdjust="spacingAndGlyphs" fill="#222" font-weight="normal">L</text><text x="341.8" y="896.7" font-size="20.1" textLength="77.5" lengthAdjust="spacingAndGlyphs" fill="#222" font-weight="normal">5218.69</text>
<text x="440.0" y="896.7" font-size="20.1" textLength="454.4" lengthAdjust="spacingAndGlyphs" fill="#6f6f7f" font-weight="normal">Tue 15 Apr 2025 22:30 - Wed 16 Apr 2025 23:30</text>
<text x="12.5" y="932.0" font-size="17.1" textLength="123.8" lengthAdjust="spacingAndGlyphs" fill="#8c8c8c" font-weight="normal">Data is indicative</text>
<rect x="1090" y="906.8" width="30.6" height="29.1" rx="3.5" fill="#9797a4"/><rect x="1092.9" y="918" width="25" height="15.1" rx="0.8" fill="#fff"/><rect x="1095.4" y="903" width="5.8" height="9.4" rx="2.9" fill="#fff"/><rect x="1109.4" y="903" width="5.8" height="9.4" rx="2.9" fill="#fff"/><rect x="1096.9" y="904.2" width="2.8" height="6.5" rx="1.4" fill="#9797a4"/><rect x="1110.9" y="904.2" width="2.8" height="6.5" rx="1.4" fill="#9797a4"/>
<text x="12.0" y="966.2" font-size="20.6" textLength="34.2" lengthAdjust="spacingAndGlyphs" fill="#000" font-weight="normal">Tue</text>
<text x="65.5" y="966.2" font-size="20.6" textLength="118.8" lengthAdjust="spacingAndGlyphs" fill="#000" font-weight="normal">Wed 16 Apr</text>
<text x="321.2" y="966.2" font-size="20.6" textLength="44.2" lengthAdjust="spacingAndGlyphs" fill="#8b8b86" font-weight="normal">3:00</text>
<text x="539.0" y="966.2" font-size="20.6" textLength="44.0" lengthAdjust="spacingAndGlyphs" fill="#8b8b86" font-weight="normal">6:00</text>
<text x="756.5" y="966.2" font-size="20.6" textLength="44.5" lengthAdjust="spacingAndGlyphs" fill="#8b8b86" font-weight="normal">9:00</text>
<text x="970.0" y="966.2" font-size="20.6" textLength="57.5" lengthAdjust="spacingAndGlyphs" fill="#8b8b86" font-weight="normal">12:00</text>
<text x="1189.0" y="966.2" font-size="20.6" textLength="57.0" lengthAdjust="spacingAndGlyphs" fill="#8b8b86" font-weight="normal">15:00</text>
<text x="1407.5" y="966.2" font-size="20.6" textLength="56.5" lengthAdjust="spacingAndGlyphs" fill="#8b8b86" font-weight="normal">18:00</text>
<text x="1624.5" y="966.2" font-size="20.6" textLength="57.3" lengthAdjust="spacingAndGlyphs" fill="#8b8b86" font-weight="normal">21:00</text>
<text x="1815.0" y="966.2" font-size="20.6" textLength="37.0" lengthAdjust="spacingAndGlyphs" fill="#000" font-weight="normal">Thu</text>
</svg></div>
<div class="sec" id="frame-bot"></div>
<div class="corner c-tl"></div><div class="corner c-tr"></div><div class="corner c-bl"></div><div class="corner c-br"></div>
</body></html>
